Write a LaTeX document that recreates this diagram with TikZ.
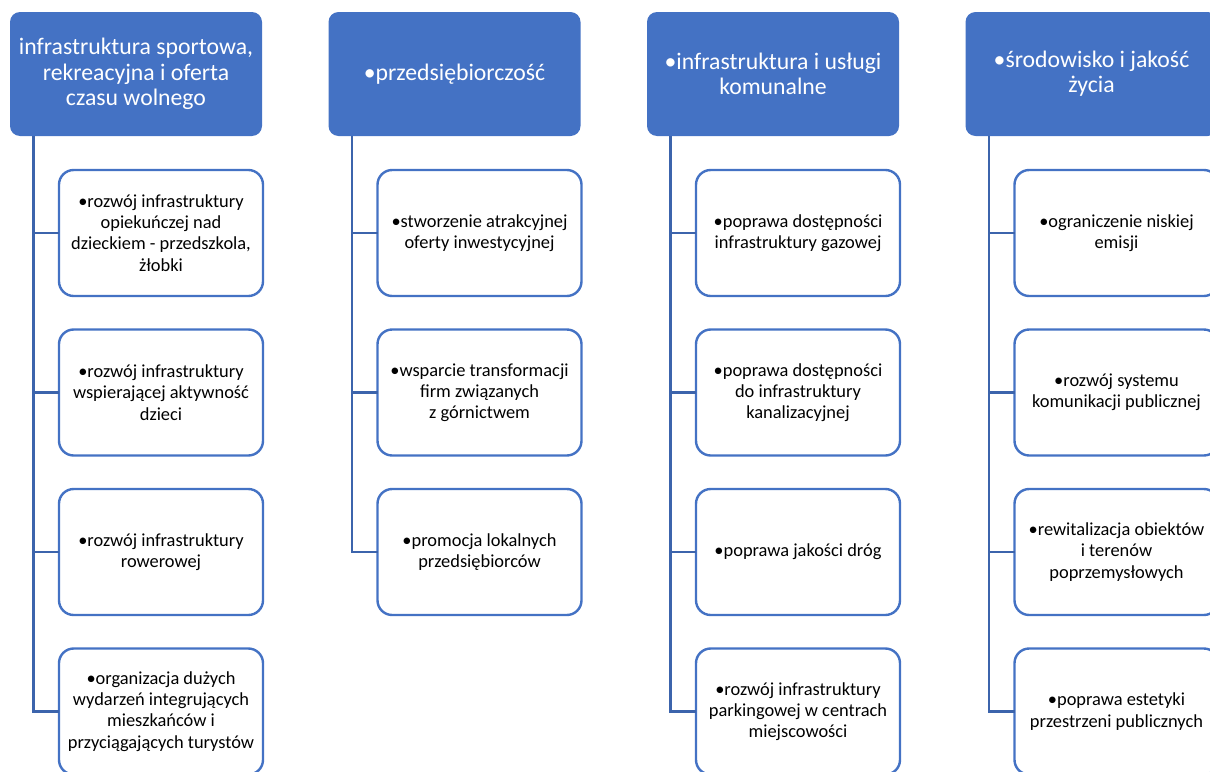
\documentclass[tikz,border=0pt]{standalone}
\usepackage{fontspec}
\setmainfont{Carlito}
\usepackage{tikz}
\usetikzlibrary{calc}
\definecolor{headblue}{HTML}{4472C4}
\definecolor{linkblue}{HTML}{3C64AC}

\begin{document}
\begin{tikzpicture}[x=0.75pt,y=-0.75pt,
	head/.style={anchor=north west,fill=headblue,text=white,rounded corners=7.5pt,align=center,
		minimum width=189pt,minimum height=93pt,inner sep=2pt,outer sep=0pt,
		font=\fontsize{17.8}{19}\selectfont},
	item/.style={anchor=north west,draw=headblue,line width=1.8pt,fill=white,rounded corners=11pt,align=center,
		minimum width=153pt,minimum height=94.5pt,inner sep=2pt,outer sep=0pt,
		font=\fontsize{13.8}{15.9}\selectfont},
	link/.style={linkblue,line width=2.2pt}]
	\useasboundingbox (0,0) rectangle (1210,771);
	\clip (0,0) rectangle (1210,771);
	
	% column 1
	\node[head] (head1) at (10,12) {infrastruktura sportowa,\\rekreacyjna i oferta\\czasu wolnego};
	\node[item] (c1a) at (59,170)   {•rozwój infrastruktury\\opiekuńczej nad\\dzieckiem - przedszkola,\\żłobki};
	\node[item] (c1b) at (59,329.5) {•rozwój infrastruktury\\wspierającej aktywność\\dzieci};
	\node[item] (c1c) at (59,489)   {•rozwój infrastruktury\\rowerowej};
	\node[item] (c1d) at (59,648.5) {•organizacja dużych\\wydarzeń integrujących\\mieszkańców i\\przyciągających turystów};
	%
	% column 2
	\node[head] (head2) at (328.5,12) {•przedsiębiorczość};
	\node[item] (c2a) at (377.5,170)   {•stworzenie atrakcyjnej\\oferty inwestycyjnej};
	\node[item] (c2b) at (377.5,329.5) {•wsparcie transformacji\\firm związanych\\z górnictwem};
	\node[item] (c2c) at (377.5,489)   {•promocja lokalnych\\przedsiębiorców};
	%
	% column 3
	\node[head] (head3) at (647,12) {•infrastruktura i usługi\\komunalne};
	\node[item] (c3a) at (696,170)   {•poprawa dostępności\\infrastruktury gazowej};
	\node[item] (c3b) at (696,329.5) {•poprawa dostępności\\do infrastruktury\\kanalizacyjnej};
	\node[item] (c3c) at (696,489)   {•poprawa jakości dróg};
	\node[item] (c3d) at (696,648.5) {•rozwój infrastruktury\\parkingowej w centrach\\miejscowości};
	%
	% column 4 (cut off at the right edge)
	\node[head] (head4) at (965.5,12) {•środowisko i jakość\\życia};
	\node[item] (c4a) at (1014.5,170)   {•ograniczenie niskiej\\emisji};
	\node[item] (c4b) at (1014.5,329.5) {•rozwój systemu\\komunikacji publicznej};
	\node[item] (c4c) at (1014.5,489)   {•rewitalizacja obiektów\\i terenów\\poprzemysłowych};
	\node[item] (c4d) at (1014.5,648.5) {•poprawa estetyki\\przestrzeni publicznych};
	
	% connectors
	\foreach \h/\list in {head1/{c1a,c1b,c1c,c1d},head2/{c2a,c2b,c2c},head3/{c3a,c3b,c3c,c3d},head4/{c4a,c4b,c4c,c4d}}
		\foreach \c in \list
			\draw[link] ($(\h.south west)+(23.5,0)$) |- (\c.west);
\end{tikzpicture}
\end{document}
